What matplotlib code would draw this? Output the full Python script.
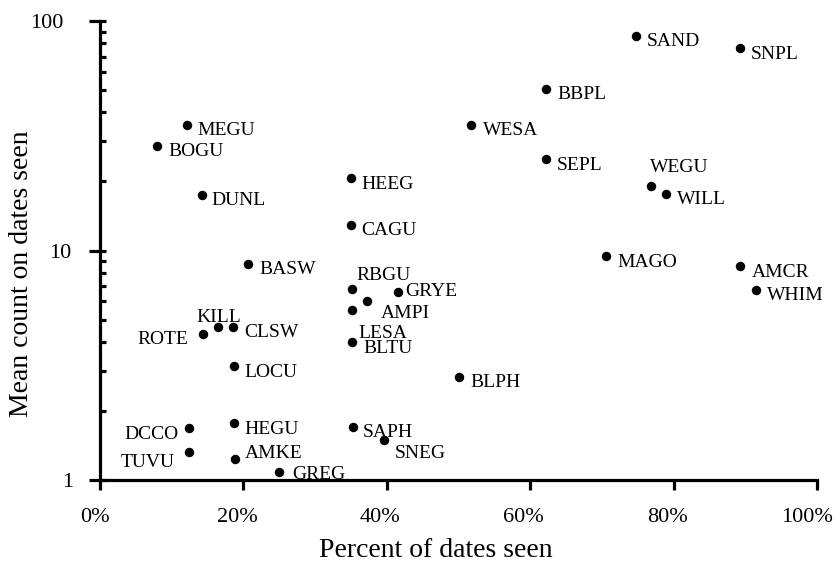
import numpy as np
import matplotlib
matplotlib.use("Agg")
import matplotlib.pyplot as plt
import matplotlib.transforms as mtrans
from matplotlib.ticker import FixedLocator, NullFormatter, FuncFormatter, PercentFormatter

plt.rcParams['font.family'] = ['Liberation Serif', 'DejaVu Serif']

# species codes, percent of dates seen, mean count on dates seen
species = ['SAND', 'SNPL', 'BBPL', 'MEGU', 'WESA', 'BOGU', 'SEPL', 'HEEG', 'WEGU',
           'DUNL', 'WILL', 'CAGU', 'MAGO', 'BASW', 'AMCR', 'RBGU', 'GRYE', 'WHIM',
           'AMPI', 'LESA', 'KILL', 'CLSW', 'ROTE', 'BLTU', 'LOCU', 'BLPH', 'HEGU',
           'DCCO', 'SAPH', 'SNEG', 'TUVU', 'AMKE', 'GREG']
pct_seen = [74.7, 89.2, 62.2, 12.2, 51.8, 8.0, 62.2, 35.0, 76.8,
            14.2, 78.9, 35.0, 70.6, 20.6, 89.3, 35.2, 41.5, 91.5,
            37.3, 35.2, 16.5, 18.6, 14.3, 35.2, 18.7, 50.1, 18.7,
            12.4, 35.3, 39.6, 12.4, 18.8, 25.0]
mean_count = [86.0, 76.5, 50.5, 35.1, 35.1, 28.6, 25.1, 20.8, 19.1,
              17.4, 17.6, 12.9, 9.46, 8.71, 8.59, 6.80, 6.57, 6.73,
              6.03, 5.51, 4.66, 4.66, 4.34, 3.98, 3.15, 2.82, 1.78,
              1.69, 1.71, 1.49, 1.33, 1.235, 1.087]

x_ticks = [0, 20, 40, 60, 80, 100]
y_ticks = [1, 10, 100]

# label placement (offset in pixels, horizontal alignment)
label_pos = {
    'MEGU': (10, -10, 'left'), 'BOGU': (11, -10, 'left'), 'DUNL': (10, -10, 'left'),
    'HEEG': (10, -11, 'left'), 'CAGU': (10, -10, 'left'), 'BASW': (12, -10, 'left'),
    'SAND': (11, -10, 'left'), 'SNPL': (11, -11, 'left'), 'BBPL': (11, -10, 'left'),
    'WESA': (12, -10, 'left'), 'SEPL': (11, -11, 'left'), 'WEGU': (-1, 14, 'left'),
    'WILL': (11, -10, 'left'), 'MAGO': (11, -11, 'left'), 'AMCR': (12, -11, 'left'),
    'WHIM': (11, -10, 'left'), 'RBGU': (4, 9, 'left'), 'GRYE': (8, -4, 'left'),
    'AMPI': (13, -17, 'left'), 'LESA': (6, -28, 'left'), 'BLTU': (11, -11, 'left'),
    'KILL': (0, 5, 'center'), 'CLSW': (11, -10, 'left'), 'ROTE': (-14, -10, 'right'),
    'LOCU': (10, -11, 'left'), 'HEGU': (10, -11, 'left'), 'DCCO': (-10, -11, 'right'),
    'SAPH': (10, -10, 'left'), 'SNEG': (11, -18, 'left'), 'TUVU': (-14, -15, 'right'),
    'AMKE': (10, 1, 'left'), 'GREG': (13, -7, 'left'), 'BLPH': (11, -10, 'left'),
}

fig = plt.figure(figsize=(8.36, 5.66), dpi=100)
ax = fig.add_axes([100 / 836, 86 / 566, 717 / 836, 459 / 566])

ax.plot(pct_seen, mean_count, 'o', color='black', markersize=5.8, clip_on=False)

for name, x, y in zip(species, pct_seen, mean_count):
    dx, dy, ha = label_pos[name]
    ax.annotate(name, (x, y), xytext=(dx, dy), textcoords='offset pixels',
                ha=ha, va='baseline', fontsize=14)

ax.set_yscale('log')
ax.set_xlim(0, 100)
ax.set_ylim(1, 100)

ax.xaxis.set_major_locator(FixedLocator(x_ticks))
ax.xaxis.set_major_formatter(PercentFormatter(xmax=100, decimals=0))
ax.xaxis.set_minor_locator(FixedLocator([]))

ax.yaxis.set_major_locator(FixedLocator(y_ticks))
ax.yaxis.set_major_formatter(FuncFormatter(lambda v, p: f"{v:g}"))
minor = [m * 10 ** e for e in range(0, 2) for m in range(1, 10)] + [100]
ax.yaxis.set_minor_locator(FixedLocator(minor))
ax.yaxis.set_minor_formatter(NullFormatter())
ax.yaxis.remove_overlapping_locs = False

for s in ['top', 'right']:
    ax.spines[s].set_visible(False)
for s in ['left', 'bottom']:
    ax.spines[s].set_linewidth(2.3)

ax.tick_params(axis='x', which='major', direction='out', length=7, width=2.3,
               labelsize=16, pad=13)
ax.tick_params(axis='y', which='major', direction='out', length=8, width=2.3,
               labelsize=16, pad=11)
ax.tick_params(axis='y', which='minor', direction='in', length=4.5, width=2.3)

# nudge tick labels like the original
x_shift = [-5, -6.5, -6.5, -7, -6.5, -10]
for tick, sh in zip(ax.xaxis.get_major_ticks(len(x_ticks)), x_shift):
    tick.label1.set_transform(tick.label1.get_transform() +
                              mtrans.ScaledTranslation(sh / 100, 0, fig.dpi_scale_trans))
y_shift = [0, -2.6, -10.6]
for tick, sh in zip(ax.yaxis.get_major_ticks(len(y_ticks)), y_shift):
    tick.label1.set_transform(tick.label1.get_transform() +
                              mtrans.ScaledTranslation(sh / 100, 0, fig.dpi_scale_trans))

ax.set_xlabel('Percent of dates seen', fontsize=20)
ax.set_ylabel('Mean count on dates seen', fontsize=20)
ax.xaxis.set_label_coords(0.469, -0.126)
ax.yaxis.set_label_coords(-0.092, 0.449)

fig.savefig('out.png', dpi=100)
